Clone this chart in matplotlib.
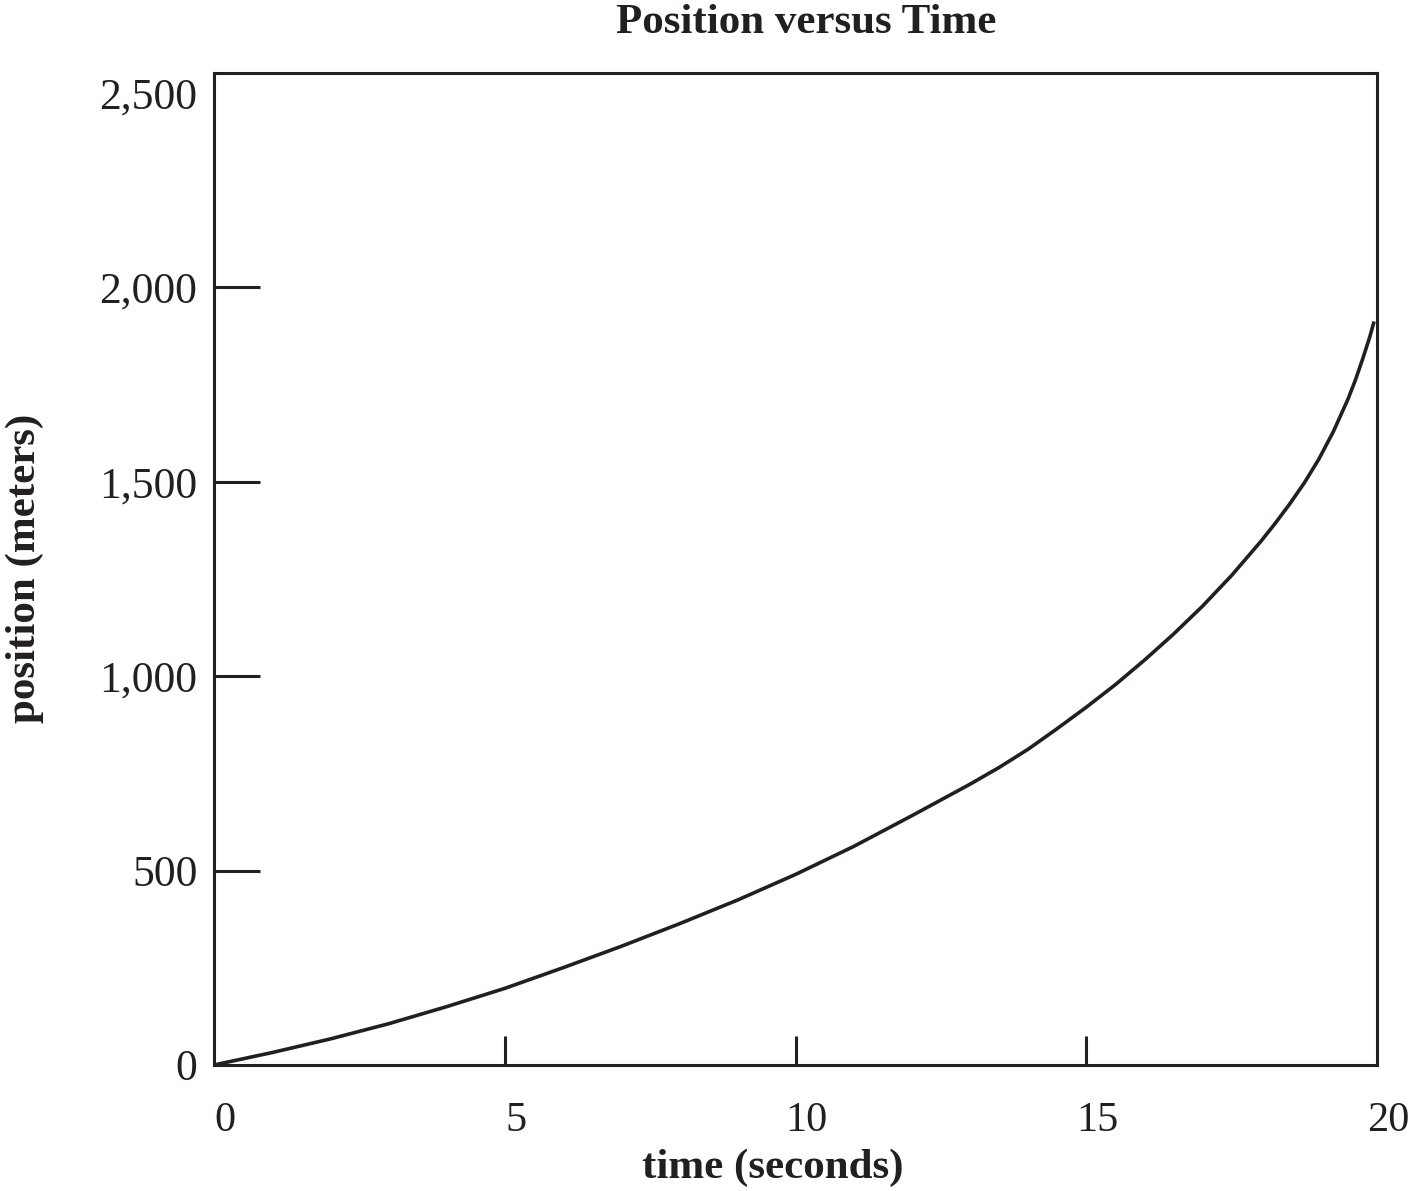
import numpy as np
import matplotlib
matplotlib.use("Agg")
import matplotlib.pyplot as plt
from matplotlib.ticker import FixedLocator, FuncFormatter
from matplotlib.transforms import ScaledTranslation

# valores (tiempo en s, posición en m)
time_s = [0, 1, 2, 3, 4, 5, 6, 7, 8, 9, 10, 11, 12, 13, 13.5, 14, 14.5, 15,
          15.5, 16, 16.5, 17, 17.5, 18, 18.25, 18.5, 18.75, 19, 19.25, 19.5,
          19.625, 19.75, 19.875, 19.95]
position_m = [0, 32, 67, 106, 150, 197, 250, 305, 363, 424, 490, 562, 641, 722,
              765, 812, 865, 920, 978, 1041, 1108, 1180, 1259, 1346, 1393, 1443,
              1497, 1558, 1629, 1712, 1760, 1814, 1872, 1912]

x_labels = [0, 5, 10, 15, 20]
x_marks = [5, 10, 15]
y_labels = [0, 500, 1000, 1500, 2000, 2500]
y_marks = [500, 1000, 1500, 2000]

ink = '#231f20'
plt.rcParams['font.family'] = ['Liberation Serif', 'DejaVu Serif']

fig = plt.figure(figsize=(14.11, 11.91), dpi=100)
ax = fig.add_axes([214 / 1411, 1 - 1065 / 1191, (1377 - 214) / 1411, (1065 - 73) / 1191])

ax.plot(time_s, position_m, color=ink, lw=2.6, solid_capstyle='butt',
        solid_joinstyle='round')

ax.set_xlim(0, 20)
ax.set_ylim(0, 2551)

# etiquetas en los ticks mayores (sin marca), marcas en los menores
ax.xaxis.remove_overlapping_locs = False
ax.yaxis.remove_overlapping_locs = False
ax.xaxis.set_major_locator(FixedLocator(x_labels))
ax.xaxis.set_minor_locator(FixedLocator(x_marks))
ax.yaxis.set_major_locator(FixedLocator(y_labels))
ax.yaxis.set_minor_locator(FixedLocator(y_marks))
ax.yaxis.set_major_formatter(FuncFormatter(lambda v, p: f'{int(v):,}'))

ax.tick_params(which='major', length=0, labelcolor=ink)
ax.tick_params(axis='x', which='major', pad=26, labelsize=30.5)
ax.tick_params(axis='y', which='major', pad=12, labelsize=31.5)
ax.tick_params(which='minor', direction='in', color=ink, width=2.2)
ax.tick_params(axis='x', which='minor', length=21)
ax.tick_params(axis='y', which='minor', length=33)

offset = ScaledTranslation(11 / 100, 0, fig.dpi_scale_trans)
for lab in ax.get_xticklabels():
    lab.set_transform(lab.get_transform() + offset)

for s in ax.spines.values():
    s.set_linewidth(2.2)
    s.set_color(ink)

fig.text(806 / 1411, 1 - 23 / 1191, 'Position versus Time', ha='center', va='center',
         fontsize=31, fontweight='bold', color=ink)
fig.text(773 / 1411, 1 - 1168 / 1191, 'time (seconds)', ha='center', va='center',
         fontsize=31, fontweight='bold', color=ink)
fig.text(25 / 1411, 1 - 568 / 1191, 'position (meters)', ha='center', va='center',
         rotation=90, fontsize=31, fontweight='bold', color=ink)

fig.savefig('out.png', dpi=100)
